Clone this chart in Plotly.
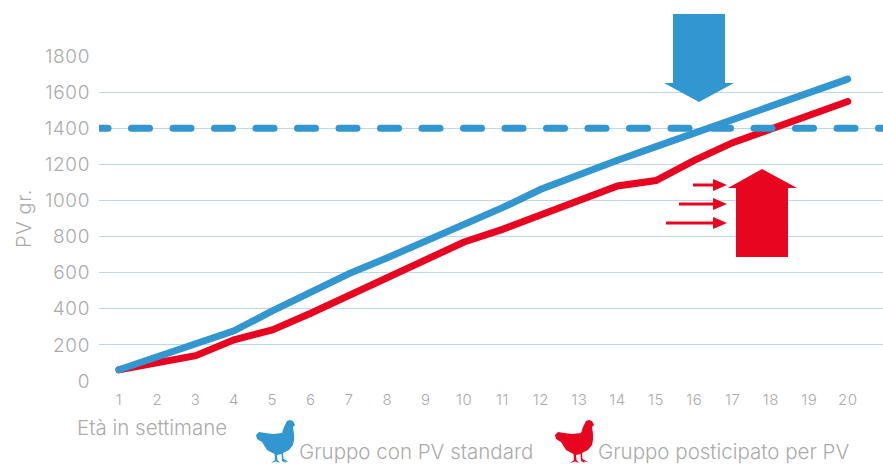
import plotly.graph_objects as go

weeks = list(range(1, 21))
standard = [62, 135, 200, 278, 388, 493, 595, 683, 772, 861, 960, 1062, 1146, 1223, 1298, 1374, 1450, 1527, 1603, 1672]
posticipato = [62, 100, 140, 228, 283, 375, 476, 576, 678, 770, 840, 920, 1000, 1080, 1110, 1222, 1320, 1397, 1473, 1548]
target_value = 1400
y_ticks = [0, 200, 400, 600, 800, 1000, 1200, 1400, 1600, 1800]

BLUE = "#3296D0"
RED = "#E8051F"
GRID = "#BDD8EE"
TEXT = "#ABABAB"
FONT = "Inter, 'Open Sans', sans-serif"

W, H = 883, 464
L, R, T, B = 99, 883, 56, 381


def px(x):
    return (x - L) / (R - L)


def py(y):
    return (B - y) / (B - T)


def path(points):
    return "M" + " L".join(f"{px(x):.5f},{py(y):.5f}" for x, y in points) + " Z"


def shape(points, color):
    return dict(type="path", xref="paper", yref="paper", path=path(points),
                fillcolor=color, line=dict(width=0), layer="above")


CHICKEN = [(34, 0), (37, 1), (39, 5), (37, 7), (38, 14), (38, 20), (37, 25), (33, 30), (27, 33),
           (27.5, 39), (33, 42), (29, 41.5), (30, 43), (26, 41), (25.5, 34), (21, 35), (21.5, 40),
           (24, 43), (20, 41.5), (15, 43), (19, 40), (18.5, 34), (11, 30), (6, 22), (1, 19), (0, 15),
           (3, 12), (9, 13), (17, 14), (26, 13), (28, 7), (31, 1)]


def chicken(ox, oy, color):
    return shape([(ox + x, oy + y) for x, y in CHICKEN], color)


def small_arrow(x0, y, color):
    return shape([(x0, y - 1.5), (713, y - 1.5), (713, y - 6), (727, y), (713, y + 6), (713, y + 1.5), (x0, y + 1.5)], color)


shapes = [
    shape([(673, 14), (725, 14), (725, 83), (734, 83), (699, 102), (664, 83), (673, 83)], BLUE),
    shape([(736, 257), (788, 257), (788, 188), (797, 188), (762, 169), (728, 188), (736, 188)], RED),
    small_arrow(693, 185, RED),
    small_arrow(679, 204, RED),
    small_arrow(666, 223, RED),
    chicken(256, 420, BLUE),
    chicken(555, 420, RED),
]


def label(text, x, y, size=20.5):
    return dict(text=text, xref="paper", yref="paper", x=px(x), y=py(y), xanchor="left", yanchor="middle",
                showarrow=False, height=25, borderpad=0,
                font=dict(family=FONT, size=size, color=TEXT, weight=300))


annotations = [
    label("Età in settimane", 76, 427),
    label("Gruppo con PV standard", 298, 451.5),
    label("Gruppo posticipato per PV", 597, 451.5),
]

dash = "9px,23.5px," + ",".join(["18px,23.5px"] * 25)

fig = go.Figure()
fig.add_trace(go.Scatter(x=weeks, y=posticipato, mode="lines", name="Gruppo posticipato per PV",
                         line=dict(color=RED, width=7), cliponaxis=False))
fig.add_trace(go.Scatter(x=[0.48, 20.92], y=[target_value, target_value], mode="lines", name="Obiettivo",
                         line=dict(color=BLUE, width=7, dash=dash), cliponaxis=False))
fig.add_trace(go.Scatter(x=weeks, y=standard, mode="lines", name="Gruppo con PV standard",
                         line=dict(color=BLUE, width=7), cliponaxis=False))

fig.update_layout(
    width=W, height=H, autosize=False, showlegend=False,
    paper_bgcolor="white", plot_bgcolor="white",
    margin=dict(l=L, r=W - R, t=T, b=H - B, pad=0),
    font=dict(family=FONT, color=TEXT),
    shapes=shapes, annotations=annotations,
    xaxis=dict(range=[0.48, 20.92], tickmode="array", tickvals=weeks, showgrid=False, zeroline=False,
               showline=False, ticks="", ticklen=0, ticklabelstandoff=8,
               tickfont=dict(size=15, weight=300, color=TEXT)),
    yaxis=dict(range=[0, 1800], tickmode="array", tickvals=y_ticks, gridcolor=GRID, gridwidth=1,
               zeroline=False, showline=False, ticks="", ticklabelstandoff=8,
               tickfont=dict(size=19, weight=300, color=TEXT),
               title=dict(text="PV gr.", standoff=10, font=dict(size=20, weight=300, color=TEXT))),
)

post = """
document.body.style.margin='0';
document.querySelectorAll('.js-line').forEach(function(p){p.style.strokeLinecap='round';});
document.querySelectorAll('.xtick text, .ytick text, .g-ytitle text').forEach(function(t){t.style.letterSpacing='0.6px';});
"""
fig.write_html("out.html", post_script=post, config=dict(displayModeBar=False))
